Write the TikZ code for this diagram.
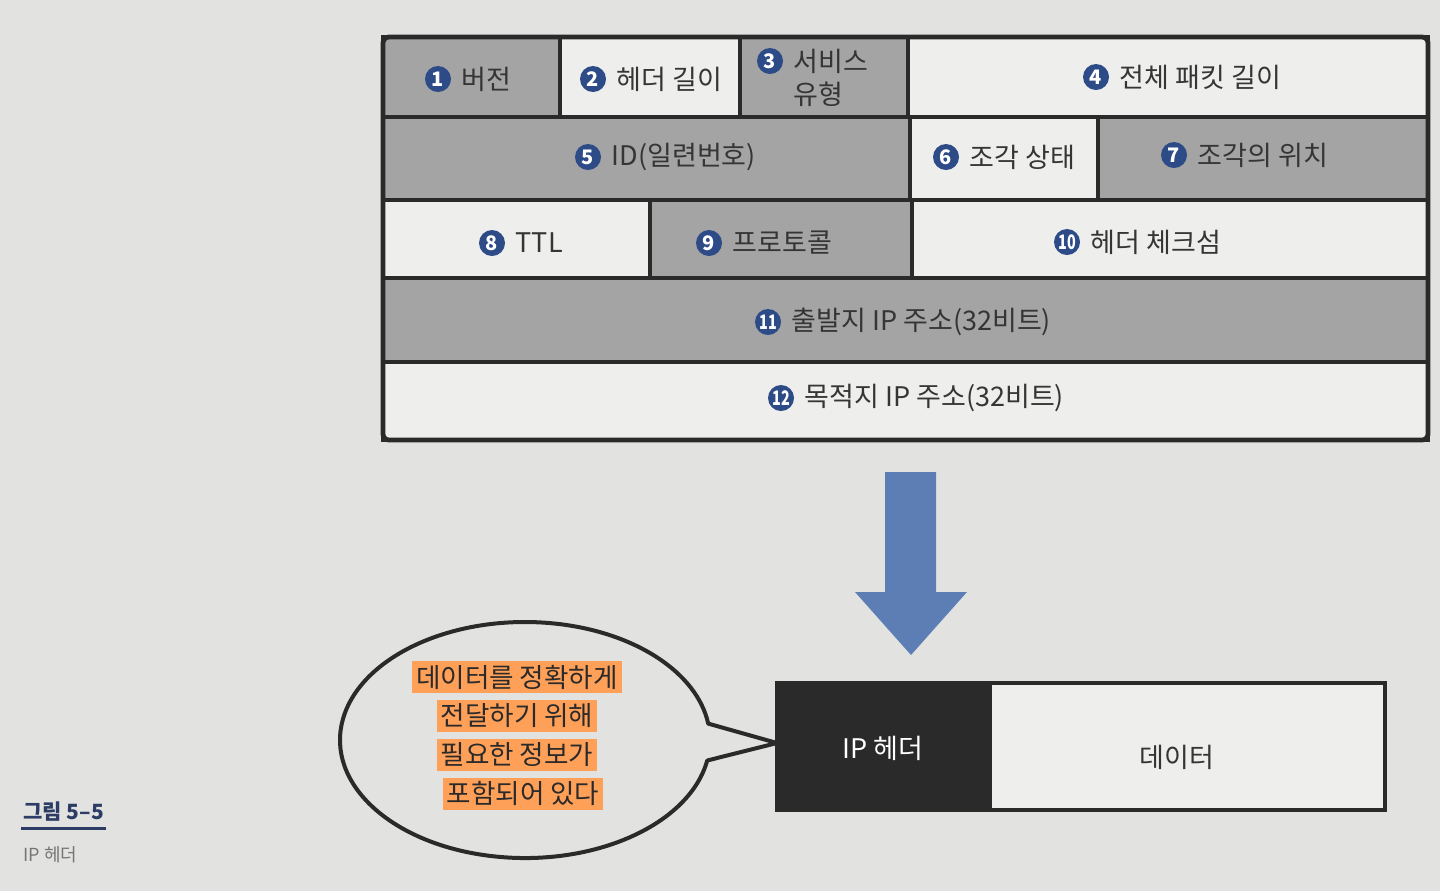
\documentclass[tikz,border=0pt]{standalone}
\usepackage{fontspec}
\setmainfont{Noto Sans CJK KR}
\usetikzlibrary{positioning}
\definecolor{page}{RGB}{226,227,225}
\definecolor{cellgray}{RGB}{163,164,163}
\definecolor{cellwhite}{RGB}{238,238,236}
\definecolor{ink}{RGB}{42,42,42}
\definecolor{numblue}{RGB}{45,75,135}
\definecolor{arrowblue}{RGB}{92,126,180}
\definecolor{marker}{RGB}{255,160,88}
\definecolor{capnavy}{RGB}{44,60,100}
\newcommand{\ipfield}[5]{\draw[field,fill=#5] (#1,#2) rectangle (#3,#4);}
\newcommand{\twodig}[1]{\scalebox{0.72}[1]{#1}}

\begin{document}
\begin{tikzpicture}[x=0.5pt,y=-0.5pt]
  \tikzset{field/.style={draw=ink,line width=2pt},
           num/.style={circle,fill=numblue,text=white,inner sep=0pt,minimum size=13pt,
                       font=\bfseries\fontsize{10}{10}\selectfont},
           lbl/.style={inner sep=1pt,text=ink!95,font=\fontsize{13.5}{16}\selectfont},
           hl/.style={fill=marker,inner sep=2pt,text=ink,font=\fontsize{13.3}{16}\selectfont},
           bubble/.style={draw=ink,line width=2pt,fill=page,line join=round}}
  \fill[page] (0,0) rectangle (1440,891);

  \ipfield{383}{37}{560}{117}{cellgray}
  \ipfield{560}{37}{740}{117}{cellwhite}
  \ipfield{740}{37}{908}{117}{cellgray}
  \ipfield{908}{37}{1428}{117}{cellwhite}
  \ipfield{383}{117}{910}{200}{cellgray}
  \ipfield{910}{117}{1098}{200}{cellwhite}
  \ipfield{1098}{117}{1428}{200}{cellgray}
  \ipfield{383}{200}{650}{278}{cellwhite}
  \ipfield{650}{200}{912}{278}{cellgray}
  \ipfield{912}{200}{1428}{278}{cellwhite}
  \ipfield{383}{278}{1428}{362}{cellgray}
  \ipfield{383}{362}{1428}{440}{cellwhite}
  \draw[field,line width=2.4pt,rounded corners=3pt] (383,37) rectangle (1428,440);

  \node[num] (n1) at (438,79) {1};   \node[lbl,right=4pt of n1] (t1) {버전};
  \node[num] (n2) at (593,79) {2};   \node[lbl,right=4pt of n2] (t2) {헤더 길이};
  \node[num] (n3) at (770,61) {3};   \node[lbl,right=4pt of n3] (t3) {서비스};
  \node[lbl,below=2pt of t3.south west,anchor=north west] (t3b) {유형};
  \node[num] (n4) at (1096,77) {4};  \node[lbl,right=4pt of n4] (t4) {전체 패킷 길이};
  \node[num] (n5) at (588,157) {5};  \node[lbl,right=4pt of n5] (t5) {ID(일련번호)};
  \node[num] (n6) at (946,157) {6};  \node[lbl,right=4pt of n6] (t6) {조각 상태};
  \node[num] (n7) at (1174,155) {7}; \node[lbl,right=4pt of n7] (t7) {조각의 위치};
  \node[num] (n8) at (492,243) {8};  \node[lbl,right=4pt of n8] (t8) {TTL};
  \node[num] (n9) at (709,243) {9};  \node[lbl,right=4pt of n9] (t9) {프로토콜};
  \node[num] (n10) at (1067,242) {\twodig{10}}; \node[lbl,right=4pt of n10] (t10) {헤더 체크섬};
  \node[num] (n11) at (768,322) {\twodig{11}};  \node[lbl,right=4pt of n11] (t11) {출발지 IP 주소(32비트)};
  \node[num] (n12) at (781,398) {\twodig{12}};  \node[lbl,right=4pt of n12] (t12) {목적지 IP 주소(32비트)};

  \fill[arrowblue] (885,472) -- (936,472) -- (936,592) -- (967,592) -- (911,655)
                   -- (855,592) -- (885,592) -- cycle;

  \draw[field,fill=cellwhite] (990,683) rectangle (1385,810);
  \draw[field,fill=ink] (777,683) rectangle (990,810);
  \node[lbl,text=white] (hdr) at (883,748) {IP 헤더};
  \node[lbl] (data) at (1177,757) {데이터};
  \coordinate (tip) at (777,743);

  \draw[bubble] (707.2,760.5) arc[start angle=10,end angle=352,x radius=185,y radius=118]
                -- (tip) -- cycle;
  \node[hl] (m1) at (517,677) {데이터를 정확하게};
  \node[hl,below=3pt of m1] (m2) {전달하기 위해};
  \node[hl,below=3pt of m2] (m3) {필요한 정보가};
  \node[hl,below=3pt of m3,xshift=3pt] (m4) {포함되어 있다};

  \node[anchor=west,inner sep=1pt,text=capnavy,font=\bfseries\fontsize{10.5}{12}\selectfont] (fig) at (21,812) {그림 5–5};
  \draw[capnavy,line width=1.4pt] ([yshift=-2pt]fig.south west) -- ([yshift=-2pt]fig.south east);
  \node[anchor=west,inner sep=1pt,text=ink!65,font=\fontsize{9}{11}\selectfont] (figname) at (21,855) {IP 헤더};
\end{tikzpicture}
\end{document}
